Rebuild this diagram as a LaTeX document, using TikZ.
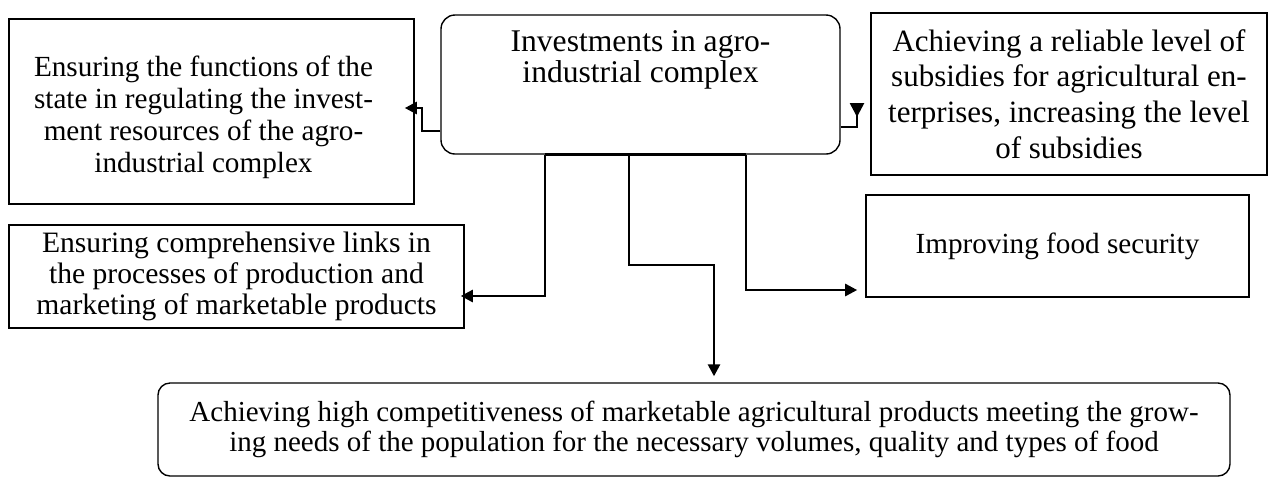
\documentclass[tikz,border=0pt]{standalone}
\usepackage{fontspec}
\setmainfont{Liberation Serif}
\usetikzlibrary{arrows.meta}

\begin{document}
\begin{tikzpicture}[x=0.5pt, y=-0.5pt,
		box/.style={draw, line width=0.8pt, inner sep=0pt, align=center, font=\fontsize{14.6}{16}\selectfont},
		roundbox/.style={box, line width=0.7pt, rounded corners=7pt},
		wire/.style={line width=1.3pt},
		arrow/.style={wire, -{Triangle[length=6pt,width=6pt]}}]
		\useasboundingbox (0,0) rectangle (1274,479);
		\node[roundbox, minimum width=199.5pt, minimum height=69.5pt, font=\fontsize{15.8}{15.5}\selectfont] (ctr) at (640.5,84.5) {\parbox[c][54pt][t]{190pt}{\centering Investments in agro-\\industrial complex}};
		\node[box, minimum width=202.5pt, minimum height=92.5pt] (state) at (211.5,111.5) {\parbox[c][80pt][c]{190pt}{\centering\vspace*{6pt}Ensuring the functions of the\\state in regulating the invest-\\ment resources of the agro-\\industrial complex}\hspace*{8pt}};
		\node[box, minimum width=198pt, minimum height=81pt, font=\fontsize{15.5}{17.8}\selectfont] (subs) at (1069,94) {Achieving a reliable level of\\subsidies for agricultural en-\\terprises, increasing the level\\of subsidies};
		\node[box, minimum width=227.5pt, minimum height=51.5pt, font=\fontsize{14.8}{15.5}\selectfont] (links) at (236.5,276.5) {Ensuring comprehensive links in\\the processes of production and\\marketing of marketable products};
		\node[box, minimum width=191.5pt, minimum height=51pt] (food) at (1057.5,246) {Improving food security};
		\node[roundbox, minimum width=536pt, minimum height=46.5pt, rounded corners=6pt, font=\fontsize{14.5}{15}\selectfont] (comp) at (694,429.5) {Achieving high competitiveness of marketable agricultural products meeting the grow-\\ing needs of the population for the necessary volumes, quality and types of food};
		\coordinate (subsin) at (857,103);
		\draw[arrow, shorten >=-5pt] (ctr.west |- 0,131) -| (422,108) -- (state.east |- 0,108);
		\draw[wire, -{Triangle[reversed,length=7pt,width=7pt]}] (ctr.east |- 0,127) -| (subsin);
		\draw[wire] (545,0 |- ctr.south) -- (746,0 |- ctr.south);
		\draw[arrow, shorten >=-2pt] (545,0 |- ctr.south) |- (links.east |- 0,296);
		\draw[arrow, shorten >=3pt] (629,0 |- ctr.south) |- (714,265) -- (714,0 |- comp.north);
		\draw[arrow, shorten >=4pt] (746,0 |- ctr.south) |- (food.west |- 0,290);
	\end{tikzpicture}
\end{document}
